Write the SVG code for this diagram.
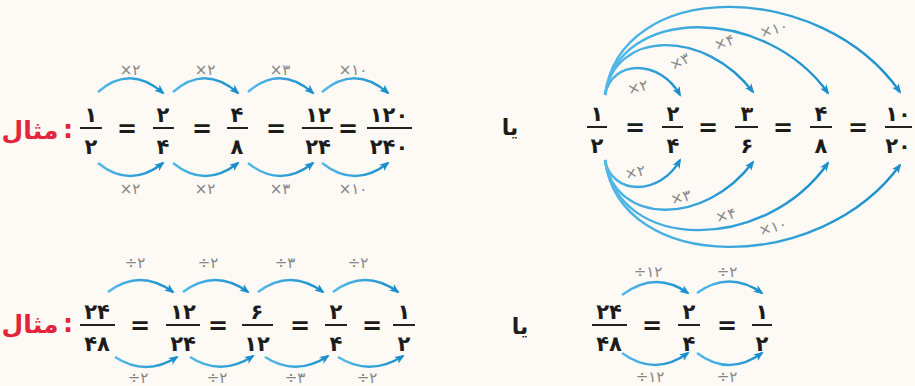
<svg xmlns="http://www.w3.org/2000/svg" width="915" height="386" viewBox="0 0 915 386">
<defs>
<linearGradient id="g" x1="0" y1="0" x2="1" y2="0">
<stop offset="0" stop-color="#52b8e8"/>
<stop offset="1" stop-color="#1a8fcc"/>
</linearGradient>
<marker id="ah" viewBox="0 0 10 10" refX="8" refY="5" markerWidth="10" markerHeight="10" markerUnits="userSpaceOnUse" orient="auto">
<path d="M0,1 L10,5 L0,9 L2.5,5 Z" fill="#1a8fcc"/>
</marker>
<style>
.n{font-family:"DejaVu Sans",sans-serif;font-weight:bold;font-size:21px;fill:#1c1c1c;text-anchor:middle}
.eq{font-family:"DejaVu Sans",sans-serif;font-weight:bold;font-size:24px;fill:#1c1c1c;text-anchor:middle}
.b{stroke:#222;stroke-width:2}
.l{font-family:"DejaVu Sans",sans-serif;font-size:15px;fill:#858585;text-anchor:middle}
.r{font-family:"DejaVu Sans",sans-serif;font-weight:bold;font-size:25px;fill:#e3243b;text-anchor:middle}
.ya{font-family:"DejaVu Sans",sans-serif;font-weight:bold;font-size:22px;fill:#1c1c1c;text-anchor:middle}
.c{fill:none;stroke:url(#g);stroke-width:2.4;marker-end:url(#ah)}
</style>
</defs>
<rect width="915" height="386" fill="#fdf9f4"/>

<g id="connectors">
<path class="c" d="M98,92 Q130,64 163,93"/>
<path class="c" d="M173,92 Q205,64 238,93"/>
<path class="c" d="M248,92 Q280,64 313,93"/>
<path class="c" d="M322,92 Q355,64 388,93"/>
<path class="c" d="M98,163 Q130,189 163,163"/>
<path class="c" d="M173,163 Q205,189 238,163"/>
<path class="c" d="M248,163 Q280,189 313,163"/>
<path class="c" d="M322,163 Q355,189 388,163"/>
<path class="c" d="M605,95 C612,59 660,59 680,95"/>
<path class="c" d="M605,95 C615,29 705,29 753,92"/>
<path class="c" d="M605,95 C618,5 765,5 828,93"/>
<path class="c" d="M605,95 C620,-22 820,-22 900,92"/>
<path class="c" d="M605,160 C612,196 660,196 680,160"/>
<path class="c" d="M605,160 C615,226 705,226 753,162"/>
<path class="c" d="M605,160 C618,253 765,253 828,163"/>
<path class="c" d="M605,160 C620,275 820,275 900,165"/>
<path class="c" d="M108,292 Q140,268 173,292"/>
<path class="c" d="M183,292 Q215,268 248,292"/>
<path class="c" d="M258,292 Q290,268 323,292"/>
<path class="c" d="M333,292 Q365,268 398,292"/>
<path class="c" d="M115,357 Q146,377 177,357"/>
<path class="c" d="M190,357 Q221,377 253,356"/>
<path class="c" d="M265,357 Q296,377 328,356"/>
<path class="c" d="M338,357 Q370,377 403,356"/>
<path class="c" d="M622,295 Q655,270 688,293"/>
<path class="c" d="M697,293 Q729,270 762,293"/>
<path class="c" d="M622,353 Q655,377 688,353"/>
<path class="c" d="M697,353 Q729,377 762,353"/>
</g>

<g id="labels">
<text class="l" x="130" y="75">×۲</text>
<text class="l" x="205" y="75">×۲</text>
<text class="l" x="280" y="75">×۳</text>
<text class="l" x="353" y="75">×۱۰</text>
<text class="l" x="130" y="194">×۲</text>
<text class="l" x="205" y="194">×۲</text>
<text class="l" x="280" y="194">×۳</text>
<text class="l" x="353" y="194">×۱۰</text>
<text class="l" transform="translate(639,92) rotate(-15)">×۲</text>
<text class="l" transform="translate(682,66) rotate(-28)">×۳</text>
<text class="l" transform="translate(726,47) rotate(-20)">×۴</text>
<text class="l" transform="translate(775,34) rotate(-15)">×۱۰</text>
<text class="l" transform="translate(636,177) rotate(-12)">×۲</text>
<text class="l" transform="translate(682,202) rotate(-15)">×۳</text>
<text class="l" transform="translate(727,220) rotate(-15)">×۴</text>
<text class="l" transform="translate(774,232) rotate(-15)">×۱۰</text>
<text class="l" x="135" y="268">÷۲</text>
<text class="l" x="208" y="268">÷۲</text>
<text class="l" x="285" y="268">÷۳</text>
<text class="l" x="358" y="268">÷۲</text>
<text class="l" x="138" y="383">÷۲</text>
<text class="l" x="217" y="383">÷۲</text>
<text class="l" x="295" y="383">÷۳</text>
<text class="l" x="367" y="383">÷۲</text>
<text class="l" x="648" y="277">÷۱۲</text>
<text class="l" x="727" y="277">÷۲</text>
<text class="l" x="650" y="382">÷۱۲</text>
<text class="l" x="727" y="382">÷۲</text>
</g>

<g id="label1"><text class="r" x="30" y="139">مثال</text><text class="r" x="68" y="138">:</text></g>
<g id="f1a"><text class="n" x="91" y="122">۱</text><line class="b" x1="80" y1="128" x2="102" y2="128"/><text class="n" x="91" y="154">۲</text></g>
<g id="e1a"><text class="eq" x="127" y="137">=</text></g>
<g id="f1b"><text class="n" x="163" y="122">۲</text><line class="b" x1="153" y1="128" x2="174" y2="128"/><text class="n" x="163" y="154">۴</text></g>
<g id="e1b"><text class="eq" x="202" y="137">=</text></g>
<g id="f1c"><text class="n" x="237" y="122">۴</text><line class="b" x1="227" y1="128" x2="248" y2="128"/><text class="n" x="237" y="154">۸</text></g>
<g id="e1c"><text class="eq" x="276" y="137">=</text></g>
<g id="f1d"><text class="n" x="318" y="122">۱۲</text><line class="b" x1="302" y1="128" x2="333" y2="128"/><text class="n" x="318" y="154">۲۴</text></g>
<g id="e1d"><text class="eq" x="348" y="137">=</text></g>
<g id="f1e"><text class="n" x="389" y="122">۱۲۰</text><line class="b" x1="367" y1="128" x2="412" y2="128"/><text class="n" x="389" y="154">۲۴۰</text></g>

<g id="ya1"><text class="ya" x="510" y="135">یا</text></g>

<g id="f2a"><text class="n" x="597" y="121">۱</text><line class="b" x1="587" y1="127" x2="607" y2="127"/><text class="n" x="597" y="153">۲</text></g>
<g id="e2a"><text class="eq" x="635" y="136">=</text></g>
<g id="f2b"><text class="n" x="673" y="121">۲</text><line class="b" x1="662" y1="127" x2="683" y2="127"/><text class="n" x="673" y="153">۴</text></g>
<g id="e2b"><text class="eq" x="708" y="136">=</text></g>
<g id="f2c"><text class="n" x="747" y="121">۳</text><line class="b" x1="735" y1="127" x2="758" y2="127"/><text class="n" x="747" y="153">۶</text></g>
<g id="e2c"><text class="eq" x="783" y="136">=</text></g>
<g id="f2d"><text class="n" x="821" y="121">۴</text><line class="b" x1="810" y1="127" x2="832" y2="127"/><text class="n" x="821" y="153">۸</text></g>
<g id="e2d"><text class="eq" x="858" y="136">=</text></g>
<g id="f2e"><text class="n" x="898" y="121">۱۰</text><line class="b" x1="885" y1="127" x2="912" y2="127"/><text class="n" x="898" y="153">۲۰</text></g>

<g id="label2"><text class="r" x="30" y="333">مثال</text><text class="r" x="68" y="332">:</text></g>
<g id="f3a"><text class="n" x="97" y="319">۲۴</text><line class="b" x1="80" y1="325" x2="115" y2="325"/><text class="n" x="97" y="351">۴۸</text></g>
<g id="e3a"><text class="eq" x="140" y="334">=</text></g>
<g id="f3b"><text class="n" x="183" y="319">۱۲</text><line class="b" x1="166" y1="325" x2="200" y2="325"/><text class="n" x="183" y="351">۲۴</text></g>
<g id="e3b"><text class="eq" x="218" y="334">=</text></g>
<g id="f3c"><text class="n" x="257" y="319">۶</text><line class="b" x1="242" y1="325" x2="273" y2="325"/><text class="n" x="257" y="351">۱۲</text></g>
<g id="e3c"><text class="eq" x="300" y="334">=</text></g>
<g id="f3d"><text class="n" x="336" y="319">۲</text><line class="b" x1="325" y1="325" x2="347" y2="325"/><text class="n" x="336" y="351">۴</text></g>
<g id="e3d"><text class="eq" x="372" y="334">=</text></g>
<g id="f3e"><text class="n" x="404" y="319">۱</text><line class="b" x1="393" y1="325" x2="415" y2="325"/><text class="n" x="404" y="351">۲</text></g>

<g id="ya2"><text class="ya" x="520" y="334">یا</text></g>

<g id="f4a"><text class="n" x="609" y="319">۲۴</text><line class="b" x1="592" y1="325" x2="627" y2="325"/><text class="n" x="609" y="351">۴۸</text></g>
<g id="e4a"><text class="eq" x="652" y="334">=</text></g>
<g id="f4b"><text class="n" x="689" y="319">۲</text><line class="b" x1="678" y1="325" x2="700" y2="325"/><text class="n" x="689" y="351">۴</text></g>
<g id="e4b"><text class="eq" x="727" y="334">=</text></g>
<g id="f4c"><text class="n" x="762" y="319">۱</text><line class="b" x1="752" y1="325" x2="772" y2="325"/><text class="n" x="762" y="351">۲</text></g>
</svg>
